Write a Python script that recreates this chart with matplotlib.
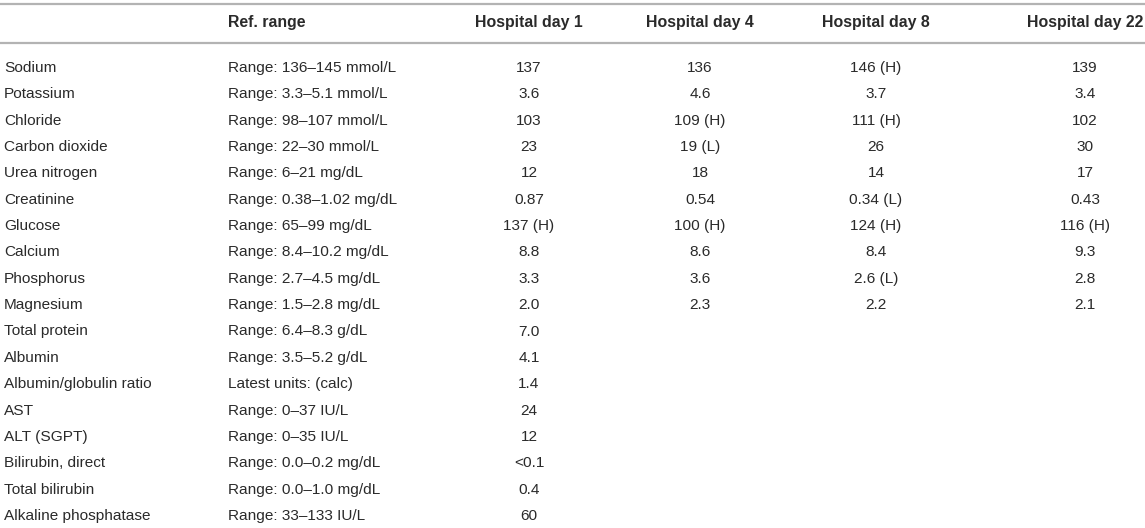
import matplotlib
matplotlib.use("Agg")
import matplotlib.pyplot as plt

plt.rcParams['font.family'] = ['Liberation Sans', 'DejaVu Sans']

analytes = ["Sodium", "Potassium", "Chloride", "Carbon dioxide", "Urea nitrogen",
            "Creatinine", "Glucose", "Calcium", "Phosphorus", "Magnesium",
            "Total protein", "Albumin", "Albumin/globulin ratio", "AST", "ALT (SGPT)",
            "Bilirubin, direct", "Total bilirubin", "Alkaline phosphatase"]
ref_ranges = ["Range: 136\u2013145 mmol/L", "Range: 3.3\u20135.1 mmol/L",
              "Range: 98\u2013107 mmol/L", "Range: 22\u201330 mmol/L",
              "Range: 6\u201321 mg/dL", "Range: 0.38\u20131.02 mg/dL",
              "Range: 65\u201399 mg/dL", "Range: 8.4\u201310.2 mg/dL",
              "Range: 2.7\u20134.5 mg/dL", "Range: 1.5\u20132.8 mg/dL",
              "Range: 6.4\u20138.3 g/dL", "Range: 3.5\u20135.2 g/dL",
              "Latest units: (calc)", "Range: 0\u201337 IU/L", "Range: 0\u201335 IU/L",
              "Range: 0.0\u20130.2 mg/dL", "Range: 0.0\u20131.0 mg/dL",
              "Range: 33\u2013133 IU/L"]
day1 = ["137", "3.6", "103", "23", "12", "0.87", "137 (H)", "8.8", "3.3", "2.0",
        "7.0", "4.1", "1.4", "24", "12", "<0.1", "0.4", "60"]
day4 = ["136", "4.6", "109 (H)", "19 (L)", "18", "0.54", "100 (H)", "8.6", "3.6", "2.3"]
day8 = ["146 (H)", "3.7", "111 (H)", "26", "14", "0.34 (L)", "124 (H)", "8.4", "2.6 (L)", "2.2"]
day22 = ["139", "3.4", "102", "30", "17", "0.43", "116 (H)", "9.3", "2.8", "2.1"]
headers = ["", "Ref. range", "Hospital day 1", "Hospital day 4", "Hospital day 8", "Hospital day 22"]

W, H = 1145, 528
fig = plt.figure(figsize=(W / 100, H / 100), dpi=100)
ax = fig.add_axes([0, 0, 1, 1])
ax.set_xlim(0, W)
ax.set_ylim(H, 0)
ax.axis('off')

line_color = '#b3b3b3'
ax.plot([0, W], [4, 4], color=line_color, lw=1.6, solid_capstyle='butt')
ax.plot([0, W], [43, 43], color=line_color, lw=1.6, solid_capstyle='butt')

fs_head = 11.4
fs = 11.1
tc = '#2a2a2a'
header_y = 23
ax.text(228, header_y, headers[1], fontsize=fs_head, fontweight='bold', ha='left', va='center', color=tc)
centers = [529, 700, 876, 1085]
for cx, h in zip(centers, headers[2:]):
    ax.text(cx, header_y, h, fontsize=fs_head, fontweight='bold', ha='center', va='center', color=tc)

y0, dy = 68, 26.35
cols = [day1, day4, day8, day22]
for i, name in enumerate(analytes):
    y = y0 + i * dy
    ax.text(4, y, name, fontsize=fs, ha='left', va='center', color=tc)
    ax.text(228, y, ref_ranges[i], fontsize=fs, ha='left', va='center', color=tc)
    for cx, col in zip(centers, cols):
        if i < len(col):
            ax.text(cx, y, col[i], fontsize=fs, ha='center', va='center', color=tc)

fig.savefig("out.png", dpi=100)
